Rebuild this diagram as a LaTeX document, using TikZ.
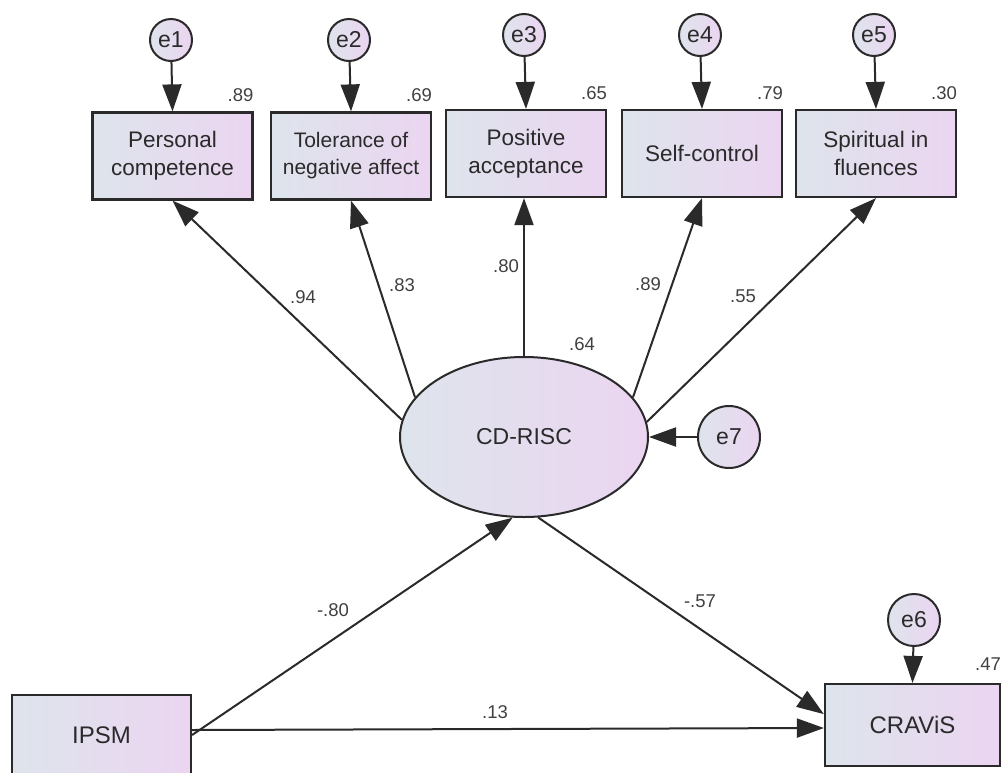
\documentclass[tikz,border=0pt]{standalone}
\usepackage{fontspec}
\setmainfont{Liberation Sans}
\usetikzlibrary{arrows.meta,shapes.geometric}
\definecolor{ink}{HTML}{2A2A2A}
\definecolor{grey}{HTML}{404040}
\definecolor{lblue}{HTML}{DEE4EC}
\definecolor{lpink}{HTML}{EBD5F1}

\begin{document}
\begin{tikzpicture}[x=1pt,y=-1pt,
   obs/.style={draw=ink,line width=2.2pt,left color=lblue,right color=lpink,minimum width=160pt,minimum height=87pt,inner sep=0pt,align=center,text=ink,font=\fontsize{22.5}{28}\selectfont},
   lat/.style={ellipse,draw=ink,line width=2pt,left color=lblue,right color=lpink,minimum width=248pt,minimum height=160pt,text=ink,font=\fontsize{23}{28}\selectfont},
   err/.style={circle,draw=ink,line width=2pt,left color=lblue,right color=lpink,minimum size=42pt,inner sep=0pt,text=ink,font=\fontsize{23}{26}\selectfont},
   num/.style={inner sep=0pt,text=grey,font=\fontsize{18.5}{21}\selectfont},
   a/.style={-{Triangle[length=27pt,width=19pt]},line width=2pt,ink}]
  \useasboundingbox (0,0) rectangle (1002,772);
  % indicators
  \node[obs] (b1) at (172.5,156) {Personal\\competence};
  \node[obs,font=\fontsize{21}{27}\selectfont] (b2) at (351,156) {Tolerance of\\negative affect};
  \node[obs] (b3) at (526,153.5) {Positive\\acceptance};
  \node[obs] (b4) at (702,153.5) {Self-control};
  \node[obs] (b5) at (876,153.5) {Spiritual in\\fluences};
  \node[err] (e1) at (171,40) {e1};
  \node[err] (e2) at (349,40) {e2};
  \node[err] (e3) at (524,35) {e3};
  \node[err] (e4) at (700,35) {e4};
  \node[err] (e5) at (874,35) {e5};
  % latent + exogenous / outcome
  \node[lat] (cd) at (524,437) {CD-RISC};
  \node[err,minimum size=62pt] (e7) at (729,437) {e7};
  \node[obs,minimum width=179pt,minimum height=80pt,font=\fontsize{24}{28}\selectfont] (ipsm) at (101.5,735) {IPSM};
  \node[obs,minimum width=175pt,minimum height=82pt,font=\fontsize{24}{28}\selectfont] (cravis) at (912.5,725) {CRAViS};
  \node[err,minimum size=52pt] (e6) at (914,620) {e6};
  % squared multiple correlations
  \node[num,anchor=base east] (r1) at ([yshift=10pt]b1.north east) {.89};
  \node[num,anchor=base east] (r2) at ([yshift=10pt]b2.north east) {.69};
  \node[num,anchor=base east] (r3) at ([yshift=9pt]b3.north east) {.65};
  \node[num,anchor=base east] (r4) at ([yshift=9pt]b4.north east) {.79};
  \node[num,anchor=base east] (r5) at ([yshift=9pt]b5.north east) {.30};
  \node[num] (r7) at (582,344) {.64};
  \node[num,anchor=base east] (r6) at ([yshift=12pt]cravis.north east) {.47};
  % paths
  \draw[a] (e1) -- (b1.north);
  \draw[a] (e2) -- (b2.north);
  \draw[a] (e3) -- (b3.north);
  \draw[a] (e4) -- (b4.north);
  \draw[a] (e5) -- (b5.north);
  \draw[a] (cd.172) -- (b1.south);
  \draw[a] (cd.160) -- (b2.south);
  \draw[a] (cd.north) -- (cd.north |- b3.south);
  \draw[a] (cd.20) -- (b4.south);
  \draw[a] (cd.7) -- (b5.south);
  \draw[a] (e7) -- (cd.east);
  \draw[a] (e6) -- (cravis.north);
  \draw[a] (ipsm.east) -- (cd.262);
  \draw[a] (cd.280) -- (cravis.173);
  \draw[a] ([yshift=5pt]ipsm.east) -- ([yshift=-3pt]cravis.west);
  % path coefficients
  \node[num] (l1) at (303,297) {.94};
  \node[num] (l2) at (402,285) {.83};
  \node[num] (l3) at (506,266) {.80};
  \node[num] (l4) at (648,284) {.89};
  \node[num] (l5) at (743,296) {.55};
  \node[num] (l6) at (333,610) {-.80};
  \node[num] (l7) at (700,601) {-.57};
  \node[num] (l8) at (495,712) {.13};
\end{tikzpicture}
\end{document}
